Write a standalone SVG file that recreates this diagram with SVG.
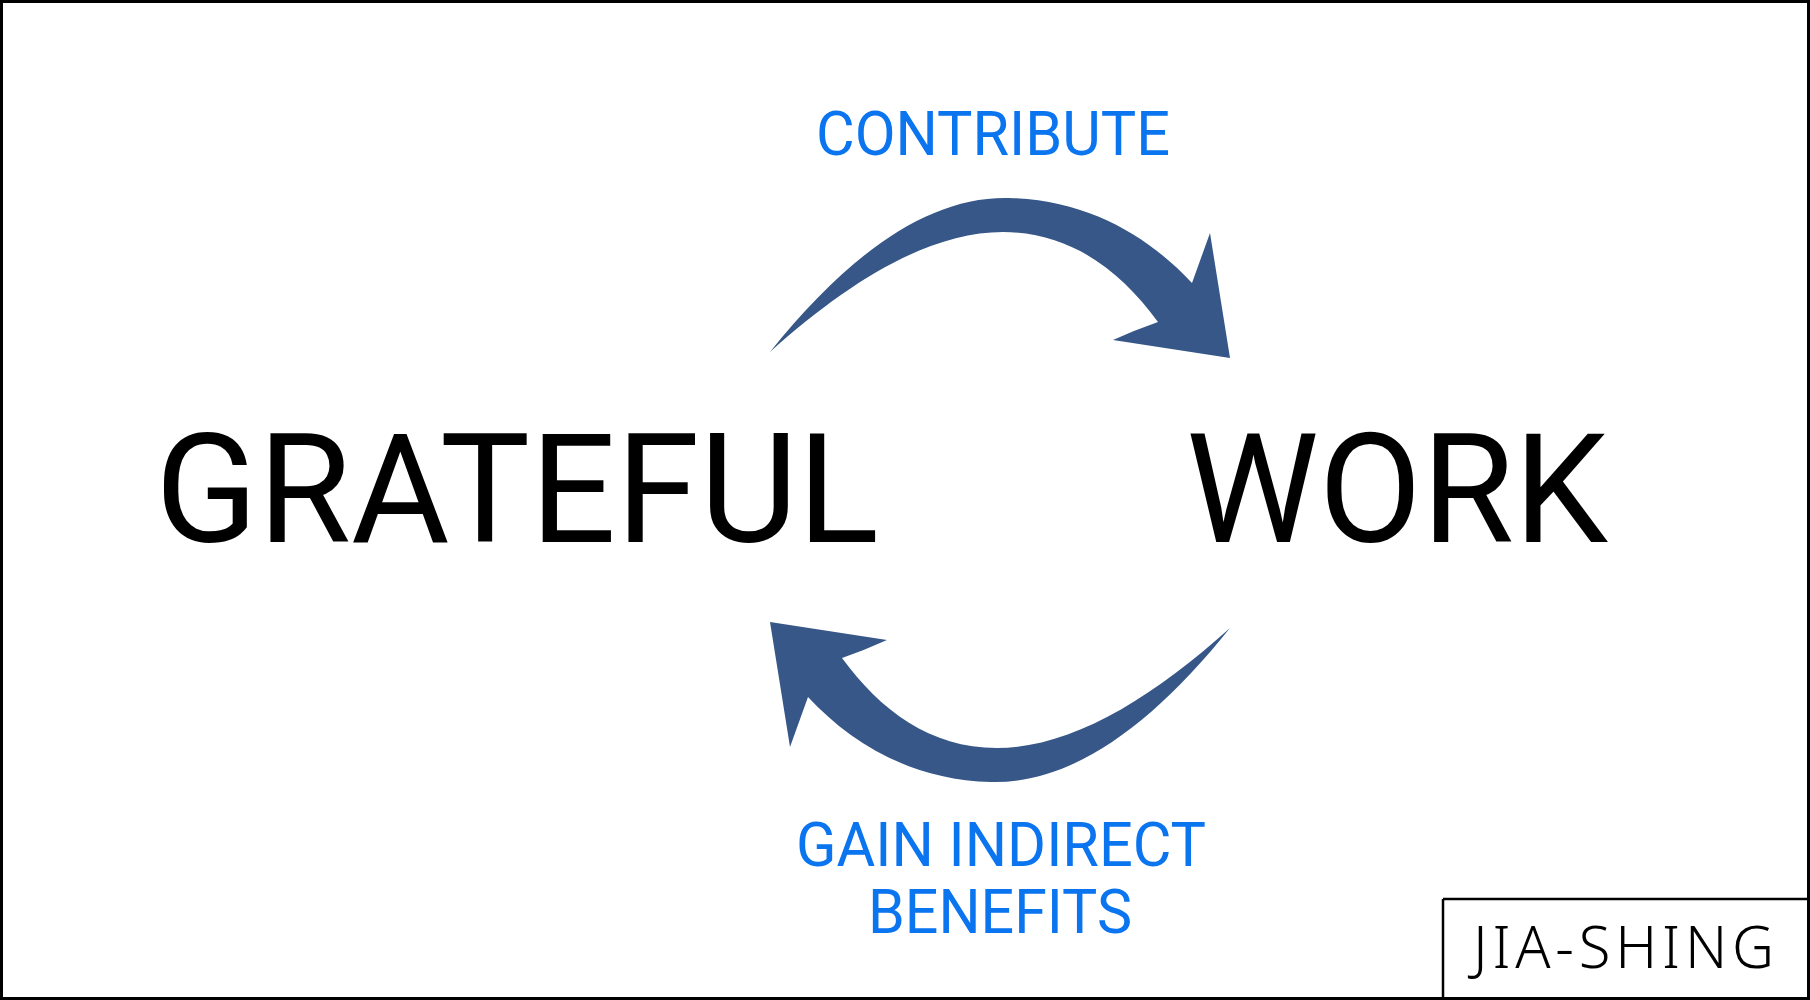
<svg xmlns="http://www.w3.org/2000/svg" width="1810" height="1000" viewBox="0 0 1810 1000">
<style>
.big{font-family:Roboto,"Liberation Sans",sans-serif;font-size:153px;fill:#000}
.lbl{font-family:Roboto,"Liberation Sans",sans-serif;font-size:62px;fill:#0b74ef;text-anchor:middle}
.sig{font-family:"Noto Sans","DejaVu Sans",sans-serif;font-size:58px;font-weight:300;fill:#000}
.arrow{fill:#365787}
</style>
<defs>
<path id="arc" d="M770,352 C850,252 930,196 1009,198 C1090,200 1150,238 1192,283 L1210,233 L1230,358 L1113,340 Q1135,330 1158,322 C1120,270 1070,232 1003,232 C930,232 850,280 770,352 Z"/>
</defs>
<rect x="0" y="0" width="1810" height="1000" fill="#fff"/>
<rect x="1.5" y="1.5" width="1807" height="997" fill="none" stroke="#000" stroke-width="3"/>
<g id="connectors">
<use href="#arc" class="arrow"/>
<use href="#arc" class="arrow" transform="rotate(180 1000 490)"/>
</g>
<g id="grateful"><text class="big" x="155" y="542" textLength="724" lengthAdjust="spacingAndGlyphs">GRATEFUL</text></g>
<g id="work"><text class="big" x="1186" y="542" textLength="422" lengthAdjust="spacingAndGlyphs">WORK</text></g>
<g id="contribute"><text class="lbl" x="993" y="155" textLength="354" lengthAdjust="spacingAndGlyphs">CONTRIBUTE</text></g>
<g id="gain"><text class="lbl" x="1001" y="866" textLength="410" lengthAdjust="spacingAndGlyphs">GAIN INDIRECT</text><text class="lbl" x="1000" y="933" textLength="264" lengthAdjust="spacingAndGlyphs">BENEFITS</text></g>
<g id="signature">
<path d="M1443,899 H1810 M1443,899 V1000" fill="none" stroke="#000" stroke-width="2.5"/>
<text class="sig" x="1473" y="968" textLength="301">JIA-SHING</text>
</g>
</svg>
